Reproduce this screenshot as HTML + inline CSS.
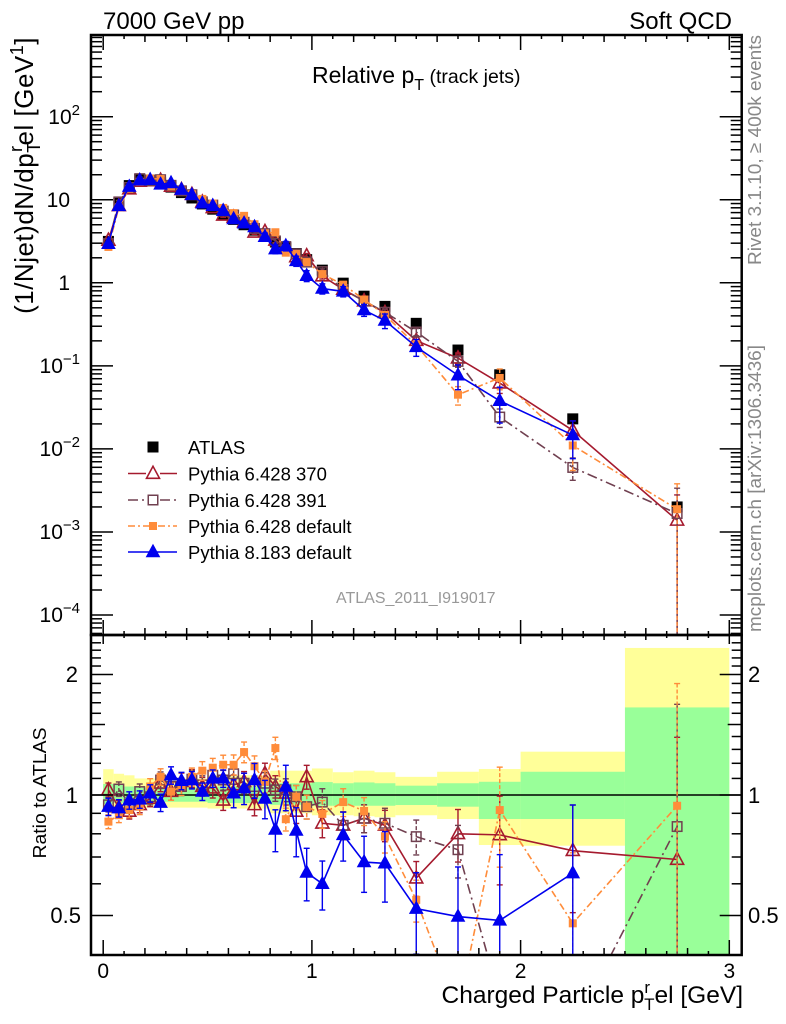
<!DOCTYPE html>
<html><head><meta charset="utf-8">
<style>
html,body{margin:0;padding:0;background:#fff;width:786px;height:1024px;overflow:hidden;}
svg{display:block;}
text{font-family:"Liberation Sans",Arial,sans-serif;fill:#000;}
</style></head><body>
<svg id="s" width="786" height="1024" viewBox="0 0 786 1024" xmlns="http://www.w3.org/2000/svg" overflow="hidden">
<defs>
<clipPath id="cm"><rect x="91" y="35" width="650.7" height="600"/></clipPath>
<clipPath id="cr"><rect x="91" y="635" width="650.7" height="320"/></clipPath>
</defs>
<rect x="0" y="0" width="786" height="1024" fill="#fff"/>
<g id="bands" clip-path="url(#cr)"></g>
<line x1="91" y1="795" x2="741.7" y2="795" stroke="#000" stroke-width="1.5"/>
<g id="rdata" clip-path="url(#cr)"></g>
<g id="mdata" clip-path="url(#cm)"></g>
<g id="ticks" stroke="#000" stroke-width="1.5"></g>
<g id="legend"></g>
<rect x="91" y="35" width="650.7" height="600" fill="none" stroke="#000" stroke-width="2.5"/>
<rect x="91" y="635" width="650.7" height="320" fill="none" stroke="#000" stroke-width="2.5"/>

<!-- titles -->
<text x="103" y="29" font-size="24">7000 GeV pp</text>
<text x="732" y="29" font-size="24" text-anchor="end">Soft QCD</text>
<text x="312" y="83" font-size="23">Relative p<tspan font-size="16" dy="7">T</tspan><tspan font-size="19.5" dy="-7"> (track jets)</tspan></text>

<!-- y axis label main -->
<text transform="translate(33,37) rotate(-90)" text-anchor="end" font-size="26" letter-spacing="0.5">(1/Njet)dN/dp<tspan font-size="18" dy="7">T</tspan><tspan font-size="18" dx="-10" dy="-18">r</tspan><tspan dy="11">el [GeV</tspan><tspan font-size="18" dy="-10">1</tspan><tspan dy="10">]</tspan></text>

<!-- main y tick labels -->
<text x="80" y="124" font-size="21" text-anchor="end">10<tspan font-size="15" dy="-9">2</tspan></text>
<text x="70" y="207" font-size="21" text-anchor="end">10</text>
<text x="70" y="290" font-size="21" text-anchor="end">1</text>
<text x="80" y="373" font-size="21" text-anchor="end">10<tspan font-size="15" dy="-9">−1</tspan></text>
<text x="80" y="456" font-size="21" text-anchor="end">10<tspan font-size="15" dy="-9">−2</tspan></text>
<text x="80" y="539" font-size="21" text-anchor="end">10<tspan font-size="15" dy="-9">−3</tspan></text>
<text x="80" y="622" font-size="21" text-anchor="end">10<tspan font-size="15" dy="-9">−4</tspan></text>

<!-- ratio labels -->
<text x="78" y="682" font-size="22" text-anchor="end">2</text>
<text x="78" y="803" font-size="22" text-anchor="end">1</text>
<text x="81" y="923" font-size="22" text-anchor="end">0.5</text>
<text x="748" y="682" font-size="22">2</text>
<text x="748" y="803" font-size="22">1</text>
<text x="748" y="923" font-size="22">0.5</text>
<text transform="translate(46,793) rotate(-90)" text-anchor="middle" font-size="18" textLength="131" lengthAdjust="spacingAndGlyphs">Ratio to ATLAS</text>

<!-- x tick labels -->
<text x="103.2" y="978" font-size="21" text-anchor="middle">0</text>
<text x="311.9" y="978" font-size="21" text-anchor="middle">1</text>
<text x="520.6" y="978" font-size="21" text-anchor="middle">2</text>
<text x="729.3" y="978" font-size="21" text-anchor="middle">3</text>
<text x="743" y="1003" font-size="24.5" text-anchor="end">Charged Particle p<tspan font-size="17" dy="-10">r</tspan><tspan font-size="17" dx="-6" dy="17">T</tspan><tspan dy="-7">el [GeV]</tspan></text>

<!-- side texts -->
<text transform="translate(761,265) rotate(-90)" font-size="18.5" fill="#888" style="fill:#888" textLength="230" lengthAdjust="spacingAndGlyphs">Rivet 3.1.10, ≥ 400k events</text>
<text transform="translate(761,632) rotate(-90)" font-size="18.5" fill="#888" style="fill:#888" textLength="287" lengthAdjust="spacingAndGlyphs">mcplots.cern.ch [arXiv:1306.3436]</text>

<text x="336" y="603" font-size="16" style="fill:#999">ATLAS_2011_I919017</text>

<!-- legend text -->
<text x="188" y="454" font-size="18.5">ATLAS</text>
<text x="188" y="480.5" font-size="18.5">Pythia 6.428 370</text>
<text x="188" y="507" font-size="18.5">Pythia 6.428 391</text>
<text x="188" y="533" font-size="18.5">Pythia 6.428 default</text>
<text x="188" y="559" font-size="18.5">Pythia 8.183 default</text>
</svg>
<script>
(function(){
const X=v=>103.2+v*208.7;
const YM=v=>116.7+(2-Math.log10(v))*83.05;
const YR=r=>795-Math.log2(r)*120.5;
const L=91,R=741.7,T=35,M=635,B=955;
const clampM=y=>Math.max(30,Math.min(640,y));
const clampR=y=>Math.max(630,Math.min(960,y));
const xs=[];for(let i=0;i<20;i++)xs.push(+(0.025+0.05*i).toFixed(3));
xs.push(1.05,1.15,1.25,1.35,1.5,1.7,1.9,2.25,2.75);
const A=[3.15,9.1,14.8,17.6,17.2,16.0,14.2,12.2,10.5,8.9,7.7,6.7,5.8,5.0,4.3,3.65,3.1,2.65,2.25,1.9,1.42,0.99,0.69,0.52,0.325,0.155,0.078,0.023,0.002];
const r370=[1.03,0.93,0.91,0.945,0.98,1.07,1.02,1.08,1.1,1.05,1.04,0.97,1.06,1.08,0.945,1.13,1.05,1.01,0.91,1.11,0.85,0.84,0.875,0.84,0.62,0.80,0.795,0.726,0.69];
const r391=[0.945,1.035,0.95,1.02,0.99,1.09,1.05,1.05,1.095,1.06,1.12,1.09,1.13,1.07,1.05,1.07,1.03,1.03,0.99,0.935,0.96,0.84,0.875,0.85,0.787,0.73,0.31,0.26,0.834];
const rdef=[0.858,0.89,0.917,0.935,1.05,1.11,1.02,1.05,1.11,1.15,1.17,1.19,1.19,1.28,1.18,1.08,1.31,0.87,0.99,0.935,0.897,0.96,0.912,0.787,0.547,0.29,0.917,0.478,0.94];
const r8=[0.935,0.927,0.97,0.975,1.01,0.957,1.12,1.085,1.09,1.02,1.1,1.1,1.01,1.04,1.09,0.98,0.82,1.05,0.815,0.64,0.60,0.795,0.68,0.675,0.52,0.497,0.486,0.638,null];
const early=[];for(let i=0;i<20;i++)early.push(0.04+0.0015*i);
const fA=early.concat([0.08,0.08,0.08,0.09,0.1,0.15,0.25,0.3,1.02]);
const fD=early.concat([0.08,0.08,0.08,0.09,0.12,0.25,0.28,0.5,1.02]);
const eB=[];for(let i=0;i<20;i++)eB.push(i<12?0.05:0.08+0.01*(i-12));
const fB=eB.concat([0.14,0.14,0.16,0.2,0.23,0.33,0.46,0.48,1.02]);
const S=[
 {r:r370,c:'#a51a2e',dash:'',mk:'tri',open:true,f:fA},
 {r:r391,c:'#704050',dash:'10,4,2,4',mk:'sq',open:true,f:fA},
 {r:rdef,c:'#ff8c3a',dash:'7,3,2,3',mk:'sq',open:false,f:fD},
 {r:r8,c:'#0000ee',dash:'',mk:'tri',open:false,f:fB}
];
function tri(x,y,w,h,fill,stroke){return `<polygon points="${x},${(y-h*0.6).toFixed(2)} ${x-w/2},${(y+h*0.4).toFixed(2)} ${x+w/2},${(y+h*0.4).toFixed(2)}" fill="${fill}" stroke="${stroke}" stroke-width="1.6"/>`;}
function sq(x,y,s,fill,stroke,sw){return `<rect x="${(x-s/2).toFixed(2)}" y="${(y-s/2).toFixed(2)}" width="${s}" height="${s}" fill="${fill}" stroke="${stroke}" stroke-width="${sw}"/>`;}
function mark(s,x,y){
 if(s.mk==='tri') return s.open?tri(x,y,13,12,'none',s.c):tri(x,y,12,11,s.c,s.c);
 return s.open?sq(x,y,9.5,'none',s.c,1.5):sq(x,y,8,s.c,'none',0);
}
function eb(x,y1,y2,c,dash){
 const d=dash?` stroke-dasharray="${dash}"`:'';
 return `<g stroke="${c}" stroke-width="1.4"><line x1="${x}" y1="${y1.toFixed(2)}" x2="${x}" y2="${y2.toFixed(2)}"${d}/><line x1="${x-3}" y1="${y1.toFixed(2)}" x2="${x+3}" y2="${y1.toFixed(2)}"/><line x1="${x-3}" y1="${y2.toFixed(2)}" x2="${x+3}" y2="${y2.toFixed(2)}"/></g>`;
}
const bands=[
[0,0.05,1.16,1.065,0.95,0.91],
[0.05,0.1,1.13,1.06,0.955,0.92],
[0.1,0.15,1.12,1.05,0.96,0.925],
[0.15,0.5,1.1,1.045,0.962,0.93],
[0.5,0.8,1.12,1.05,0.955,0.925],
[0.8,1.0,1.15,1.07,0.945,0.9],
[1.0,1.1,1.165,1.077,0.94,0.89],
[1.1,1.2,1.14,1.07,0.94,0.89],
[1.2,1.3,1.15,1.075,0.94,0.885],
[1.3,1.4,1.14,1.07,0.94,0.88],
[1.4,1.6,1.11,1.055,0.944,0.89],
[1.6,1.8,1.143,1.07,0.935,0.871],
[1.8,2.0,1.161,1.079,0.871,0.75],
[2.0,2.5,1.283,1.143,0.871,0.747],
[2.5,3.0,2.33,1.655,0.4,0.4]];
let b='';
bands.forEach(q=>{const x0=X(q[0]),x1=X(q[1]);const y0=YR(q[2]),y1=Math.min(955,YR(q[5]));
 b+=`<rect x="${x0.toFixed(2)}" y="${y0.toFixed(2)}" width="${(x1-x0).toFixed(2)}" height="${(y1-y0).toFixed(2)}" fill="#ffff99"/>`;});
bands.forEach(q=>{const x0=X(q[0]),x1=X(q[1]);const y0=YR(q[3]),y1=Math.min(955,YR(q[4]));
 b+=`<rect x="${x0.toFixed(2)}" y="${y0.toFixed(2)}" width="${(x1-x0).toFixed(2)}" height="${(y1-y0).toFixed(2)}" fill="#99ff99"/>`;});
document.getElementById('bands').innerHTML=b;
let m='',r='';
xs.forEach((x,i)=>{m+=sq(X(x),YM(A[i]),11,'#000','none',0);});
S.forEach(s=>{
 const pm=[],pr=[];
 xs.forEach((x,i)=>{const q=s.r[i];if(q==null)return;pm.push(X(x).toFixed(2)+','+YM(A[i]*q).toFixed(2));pr.push(X(x).toFixed(2)+','+YR(q).toFixed(2));});
 const da=s.dash?` stroke-dasharray="${s.dash}"`:'';
 m+=`<polyline points="${pm.join(' ')}" fill="none" stroke="${s.c}" stroke-width="1.6"${da}/>`;
 r+=`<polyline points="${pr.join(' ')}" fill="none" stroke="${s.c}" stroke-width="1.6"${da}/>`;
 xs.forEach((x,i)=>{const q=s.r[i];if(q==null)return;const f=s.f[i];const xx=X(x);
  const lo=q*(1-f),hi=q*(1+f);
  r+=eb(xx,clampR(YR(hi)),lo>0?clampR(YR(lo)):960,s.c,s.dash?'4,2':'');
  const v=A[i]*q;
  m+=eb(xx,clampM(YM(v*(1+f))),lo>0?clampM(YM(v*(1-f))):640,s.c,s.dash?'4,2':'');
 });
 xs.forEach((x,i)=>{const q=s.r[i];if(q==null)return;
  m+=mark(s,X(x),YM(A[i]*q));
  const yr=YR(q); if(yr>620&&yr<970) r+=mark(s,X(x),yr);
 });
});
document.getElementById('mdata').innerHTML=m;
document.getElementById('rdata').innerHTML=r;
let t='';
function ln(x1,y1,x2,y2){t+=`<line x1="${x1.toFixed(2)}" y1="${y1.toFixed(2)}" x2="${x2.toFixed(2)}" y2="${y2.toFixed(2)}"/>`;}
for(let k=0;k<=30;k++){const x=X(k/10);if(x>R)break;
 const maj=k%10===0,med=k%2===0;
 const a=maj?15:med?7:4,bb=maj?9:med?5:3;
 ln(x,T,x,T+a);ln(x,M,x,M-a);ln(x,M,x,M+bb);ln(x,B,x,B-a);}
for(let d=-5;d<=3;d++)for(let k=1;k<=9;k++){const v=k*Math.pow(10,d),y=YM(v);if(y<T+1||y>M-1)continue;const l=k===1?22:11;ln(L,y,L+l,y);ln(R,y,R-l,y);}
for(let k=4;k<=25;k++){const y=YR(k/10);if(y<M+1||y>B-1)continue;const l=(k===5||k===10||k===20)?22:(k===15?14:10);ln(L,y,L+l,y);ln(R,y,R-l,y);}
document.getElementById('ticks').innerHTML=t;
let g='';
const rows=[447,473.5,500,526,552];
g+=sq(153,rows[0],11,'#000','none',0);
S.forEach((s,j)=>{const y=rows[j+1];const da=s.dash?` stroke-dasharray="${s.dash}"`:'';
 if(s.open){g+=`<line x1="128" y1="${y}" x2="146" y2="${y}" stroke="${s.c}" stroke-width="1.6"${da}/><line x1="160" y1="${y}" x2="177" y2="${y}" stroke="${s.c}" stroke-width="1.6"${da}/>`;}
 else{g+=`<line x1="128" y1="${y}" x2="177" y2="${y}" stroke="${s.c}" stroke-width="1.6"${da}/>`;}
 g+=mark(s,153,y);
});
document.getElementById('legend').innerHTML=g;
})();
</script>
</body></html>
